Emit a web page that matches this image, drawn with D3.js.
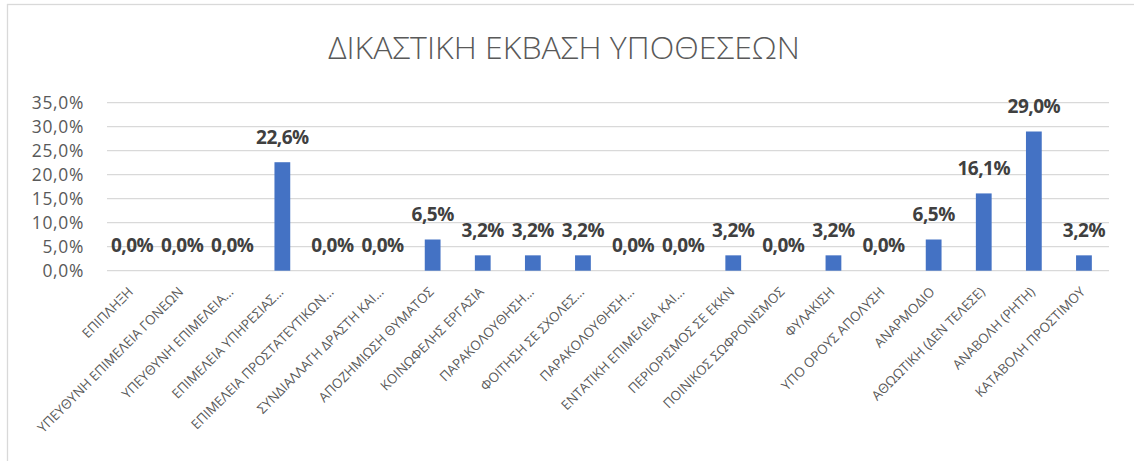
<!DOCTYPE html>
<html>
<head>
<meta charset="utf-8">
<script src="https://cdn.jsdelivr.net/npm/d3@7"></script>
<style>
  html, body { margin: 0; padding: 0; background: #ffffff; }
  svg { display: block; }
</style>
</head>
<body>
<svg id="chart" width="1134" height="461"></svg>
<script>
// Outcome categories (x axis)
const categories = [
  "ΕΠΙΠΛΗΞΗ",
  "ΥΠΕΥΘΥΝΗ ΕΠΙΜΕΛΕΙΑ ΓΟΝΕΩΝ",
  "ΥΠΕΥΘΥΝΗ ΕΠΙΜΕΛΕΙΑ...",
  "ΕΠΙΜΕΛΕΙΑ ΥΠΗΡΕΣΙΑΣ...",
  "ΕΠΙΜΕΛΕΙΑ ΠΡΟΣΤΑΤΕΥΤΙΚΩΝ...",
  "ΣΥΝΔΙΑΛΛΑΓΗ ΔΡΑΣΤΗ ΚΑΙ...",
  "ΑΠΟΖΗΜΙΩΣΗ ΘΥΜΑΤΟΣ",
  "ΚΟΙΝΩΦΕΛΗΣ ΕΡΓΑΣΙΑ",
  "ΠΑΡΑΚΟΛΟΥΘΗΣΗ...",
  "ΦΟΙΤΗΣΗ ΣΕ ΣΧΟΛΕΣ...",
  "ΠΑΡΑΚΟΛΟΥΘΗΣΗ...",
  "ΕΝΤΑΤΙΚΗ ΕΠΙΜΕΛΕΙΑ ΚΑΙ...",
  "ΠΕΡΙΟΡΙΣΜΟΣ ΣΕ ΕΚΚΝ",
  "ΠΟΙΝΙΚΟΣ ΣΩΦΡΟΝΙΣΜΟΣ",
  "ΦΥΛΑΚΙΣΗ",
  "ΥΠΟ ΟΡΟΥΣ ΑΠΟΛΥΣΗ",
  "ΑΝΑΡΜΟΔΙΟ",
  "ΑΘΩΩΤΙΚΗ (ΔΕΝ ΤΕΛΕΣΕ)",
  "ΑΝΑΒΟΛΗ (ΡΗΤΗ)",
  "ΚΑΤΑΒΟΛΗ ΠΡΟΣΤΙΜΟΥ"
];

// Share of cases per outcome, in percent
const values = [0.0, 0.0, 0.0, 22.6, 0.0, 0.0, 6.5, 3.2, 3.2, 3.2,
                0.0, 0.0, 3.2, 0.0, 3.2, 0.0, 6.5, 16.1, 29.0, 3.2];

// Y axis ticks, in percent
const yTicks = [0, 5, 10, 15, 20, 25, 30, 35];

const title = "ΔΙΚΑΣΤΙΚΗ ΕΚΒΑΣΗ ΥΠΟΘΕΣΕΩΝ";

const fmt = v => v.toFixed(1).replace(".", ",") + "%";

const svg = d3.select("#chart");

// Chart frame
svg.append("rect")
  .attr("x", 7.5).attr("y", 4.5)
  .attr("width", 1200).attr("height", 500)
  .attr("fill", "#ffffff")
  .attr("stroke", "#d9d9d9")
  .attr("stroke-width", 1.3);

const plot = { left: 107, right: 1109, top: 102.7, bottom: 270.7 };

const x = d3.scaleBand()
  .domain(d3.range(categories.length))
  .range([plot.left, plot.right])
  .paddingInner(0.685)
  .paddingOuter(0.3425);

const y = d3.scaleLinear()
  .domain([0, 35])
  .range([plot.bottom, plot.top]);

// Title
const titleText = svg.append("text")
  .attr("x", 564)
  .attr("y", 59)
  .attr("text-anchor", "middle")
  .attr("font-family", "'Open Sans', sans-serif")
  .attr("font-weight", 300)
  .attr("font-size", 34)
  .attr("fill", "#595959")
  .text(title);
// Fit the title to its intended width
const tw = titleText.node().getComputedTextLength();
titleText.attr("font-size", 34 * 472 / tw);

// Gridlines
svg.append("g")
  .selectAll("line")
  .data(yTicks)
  .join("line")
  .attr("x1", plot.left).attr("x2", plot.right)
  .attr("y1", d => y(d)).attr("y2", d => y(d))
  .attr("stroke", "#d9d9d9")
  .attr("stroke-width", 1.3);

// Y axis labels
const yAxis = d3.axisLeft(y)
  .tickValues(yTicks)
  .tickSize(0)
  .tickPadding(0)
  .tickFormat(fmt);
const yg = svg.append("g")
  .attr("transform", `translate(84,0)`)
  .call(yAxis);
yg.select(".domain").remove();
yg.selectAll("text")
  .attr("font-family", "'Open Sans', sans-serif")
  .attr("font-size", 17.4)
  .attr("letter-spacing", 0.7)
  .attr("fill", "#595959")
  .attr("dy", "0.36em");

// Bars
svg.append("g")
  .selectAll("rect")
  .data(values)
  .join("rect")
  .attr("x", (d, i) => x(i))
  .attr("width", x.bandwidth())
  .attr("y", d => y(d))
  .attr("height", d => y(0) - y(d))
  .attr("fill", "#4472c4");

// Value labels
svg.append("g")
  .selectAll("text")
  .data(values)
  .join("text")
  .attr("x", (d, i) => x(i) + x.bandwidth() / 2)
  .attr("y", d => y(d) - 18.5)
  .attr("text-anchor", "middle")
  .attr("font-family", "'Open Sans', sans-serif")
  .attr("font-weight", 700)
  .attr("font-size", 19)
  .attr("letter-spacing", -0.5)
  .attr("fill", "#404040")
  .text(d => fmt(d));

// X axis category labels, rotated
const xAxis = d3.axisBottom(x)
  .tickSize(0)
  .tickPadding(0)
  .tickFormat(i => categories[i]);
const xg = svg.append("g")
  .attr("transform", `translate(0,${plot.bottom})`)
  .call(xAxis);
xg.select(".domain").remove();
xg.selectAll("text")
  .attr("font-family", "'Open Sans', sans-serif")
  .attr("font-size", 13.3)
  .attr("fill", "#595959")
  .attr("text-anchor", "end")
  .attr("dy", null)
  .attr("y", 0)
  .attr("transform", "translate(2,22) rotate(-45)");
</script>
</body>
</html>
